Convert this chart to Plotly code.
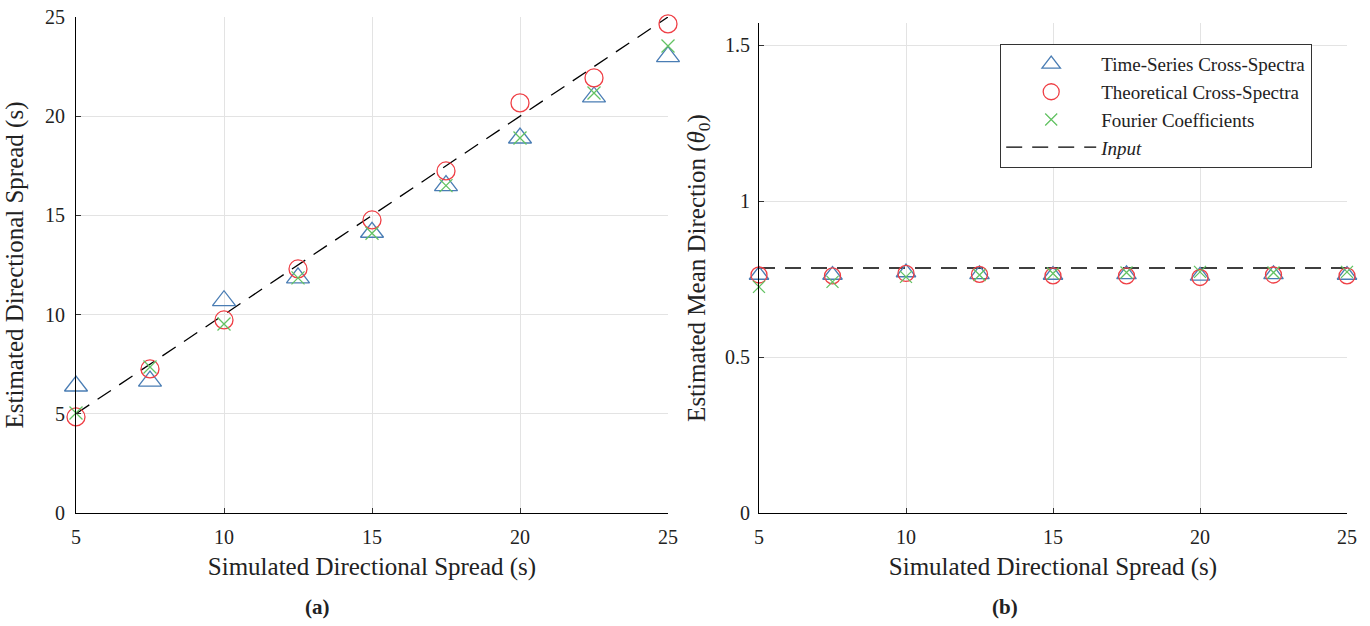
import math
import plotly.graph_objects as go

# Simulated directional spread (s)
spread_sim = [5, 7.5, 10, 12.5, 15, 17.5, 20, 22.5, 25]

# Panel (a): estimated directional spread (s)
spread_ts = [6.4, 6.65, 10.7, 11.85, 14.15, 16.5, 18.9, 20.97, 23.0]
spread_theory = [4.84, 7.26, 9.73, 12.3, 14.77, 17.24, 20.67, 21.93, 24.65]
spread_fourier = [5.04, 7.36, 9.53, 11.85, 14.1, 16.5, 18.9, 21.17, 23.54]

# Panel (b): estimated mean direction (rad)
dir_ts = [0.763, 0.763, 0.771, 0.765, 0.763, 0.765, 0.760, 0.765, 0.763]
dir_theory = [0.763, 0.760, 0.768, 0.765, 0.760, 0.760, 0.755, 0.763, 0.760]
dir_fourier = [0.725, 0.741, 0.757, 0.763, 0.768, 0.771, 0.773, 0.771, 0.773]
dir_input = math.pi / 4

names = ["Time-Series Cross-Spectra", "Theoretical Cross-Spectra",
         "Fourier Coefficients", "<i>Input</i>"]

BLUE = "#4a7db4"
RED = "#ef3f45"
GREEN = "#62c262"
FONT = "Liberation Serif"
DASH = "16px,10px"

fig = go.Figure()


def add_panel(xa, ya, ts, th, fo, ref_y, show, tri, circ, cross):
    fig.add_trace(go.Scatter(x=spread_sim, y=ref_y, mode="lines",
                             line=dict(color="black", width=1.3, dash=DASH),
                             name=names[3], showlegend=False, xaxis=xa, yaxis=ya))
    fig.add_trace(go.Scatter(x=spread_sim, y=ts, mode="markers", name=names[0],
                             marker=dict(symbol="triangle-up-open", size=tri,
                                         color=BLUE, line=dict(width=1.3, color=BLUE)),
                             showlegend=show, cliponaxis=False, xaxis=xa, yaxis=ya))
    fig.add_trace(go.Scatter(x=spread_sim, y=th, mode="markers", name=names[1],
                             marker=dict(symbol="circle-open", size=circ,
                                         color=RED, line=dict(width=1.3, color=RED)),
                             showlegend=show, cliponaxis=False, xaxis=xa, yaxis=ya))
    fig.add_trace(go.Scatter(x=spread_sim, y=fo, mode="markers", name=names[2],
                             marker=dict(symbol="x-thin-open", size=cross,
                                         color=GREEN, line=dict(width=1.3, color=GREEN)),
                             showlegend=show, cliponaxis=False, xaxis=xa, yaxis=ya))
    if show:
        fig.add_trace(go.Scatter(x=[None], y=[None], mode="lines",
                                 line=dict(color="black", width=1.3, dash=DASH),
                                 name=names[3], showlegend=True, xaxis=xa, yaxis=ya))


add_panel("x", "y", spread_ts, spread_theory, spread_fourier, spread_sim, False,
          20, 18, 13)
add_panel("x2", "y2", dir_ts, dir_theory, dir_fourier,
          [dir_input] * len(spread_sim), True, 17, 16, 12)

axis_common = dict(showline=True, linecolor="black", linewidth=1.2,
                   showgrid=True, gridcolor="#e3e3e3", gridwidth=1,
                   zeroline=False, ticks="inside", ticklen=5, tickwidth=1,
                   tickcolor="#333", mirror=False, automargin=False,
                   tickfont=dict(family=FONT, size=20, color="#222"))

xticks = [5, 10, 15, 20, 25]
title_font = dict(family=FONT, size=25, color="#222")

fig.update_layout(
    width=1370, height=626,
    margin=dict(l=0, r=0, t=0, b=0),
    paper_bgcolor="white", plot_bgcolor="white",
    font=dict(family=FONT, color="#222"),
    xaxis=dict(domain=[76 / 1370, 668 / 1370], range=[5, 25], tickvals=xticks,
               ticklabelstandoff=6,
               title=dict(text="Simulated Directional Spread (s)",
                          font=title_font, standoff=10),
               anchor="y", **axis_common),
    yaxis=dict(domain=[1 - 513 / 626, 1 - 17 / 626], range=[0, 25],
               tickvals=[0, 5, 10, 15, 20, 25], ticklabelstandoff=6,
               title=dict(text="Estimated Directional Spread (s)",
                          font=title_font, standoff=14),
               anchor="x", **axis_common),
    xaxis2=dict(domain=[759 / 1370, 1347 / 1370], range=[5, 25], tickvals=xticks,
                ticklabelstandoff=6,
                title=dict(text="Simulated Directional Spread (s)",
                           font=title_font, standoff=10),
                anchor="y2", **axis_common),
    yaxis2=dict(domain=[1 - 513 / 626, 1 - 23 / 626], range=[0, math.pi / 2],
                tickvals=[0, 0.5, 1, 1.5], ticktext=["0", "0.5", "1", "1.5"],
                ticklabelstandoff=4,
                title=dict(text="Estimated Mean Direction (<i>θ</i><sub>0</sub>)",
                           font=title_font, standoff=12),
                anchor="x2", **axis_common),
    legend=dict(x=1000 / 1370, y=1 - 44 / 626, xanchor="left", yanchor="top",
                bgcolor="white", bordercolor="#333", borderwidth=1.2,
                font=dict(family=FONT, size=19, color="#222"),
                itemwidth=90, tracegroupgap=0),
    showlegend=True,
)

fig.add_annotation(text="<b>(a)</b>", x=317 / 1370, y=1 - 607 / 626, xref="paper",
                   yref="paper", xanchor="center", yanchor="middle",
                   showarrow=False, font=dict(family=FONT, size=21))
fig.add_annotation(text="<b>(b)</b>", x=1005 / 1370, y=1 - 607 / 626, xref="paper",
                   yref="paper", xanchor="center", yanchor="middle",
                   showarrow=False, font=dict(family=FONT, size=21))

fig.write_html("out.html")
